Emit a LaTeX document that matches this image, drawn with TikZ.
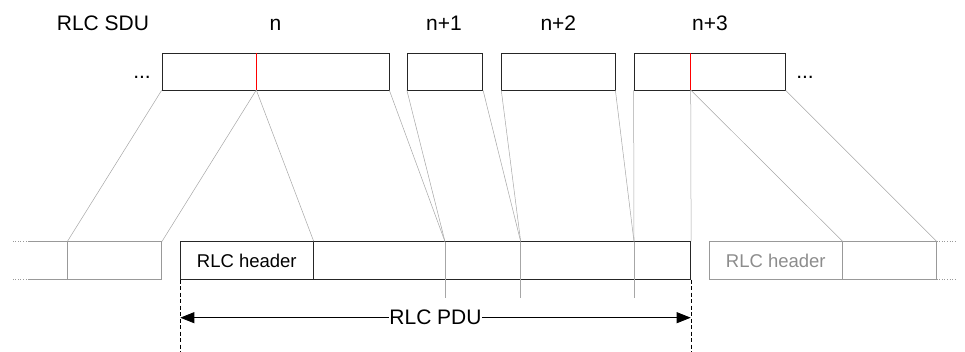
\documentclass[tikz,border=0pt]{standalone}
\usepackage{fontspec}
\setmainfont{Liberation Sans}
\usetikzlibrary{calc,arrows.meta}

\begin{document}
\begin{tikzpicture}[
        x=1pt, y=1pt,
        sdu/.style = {draw=black!85, line width=0.8pt, rectangle, minimum height=37pt, inner sep=0pt},
        pdu/.style = {draw=black!85, line width=0.8pt, rectangle, minimum height=37.6pt, inner sep=0pt},
        ghost/.style = {draw=black!40, line width=0.6pt, rectangle, minimum height=37.6pt, inner sep=0pt, text=black!45},
        ghostline/.style = {draw=black!40, line width=0.6pt},
        lbl/.style = {anchor=base, inner sep=0pt, font=\fontsize{21}{24}\selectfont},
        hdrfont/.style = {font=\fontsize{18.5}{22}\selectfont},
        map/.style = {draw=black!35, line width=0.5pt},
        cut/.style = {draw=red, line width=0.5pt},
        arrow/.style = {{Triangle[length=14pt,width=11pt]}-{Triangle[length=14pt,width=11pt]}, line width=0.8pt}
    ]
    \useasboundingbox (0,0) rectangle (965,352);

    % RLC SDUs at the top
    \node[sdu, minimum width=227pt] (sdun) at (275.5,280.5) {};
    \node[sdu, minimum width=75.4pt] (sdun1) at (445,280.5) {};
    \node[sdu, minimum width=113.3pt] (sdun2) at (558.35,280.5) {};
    \node[sdu, minimum width=151.3pt] (sdun3) at (709.65,280.5) {};

    % Labels over the SDUs
    \node[lbl] (tsdu) at (103,321) {RLC SDU};
    \node[lbl] (tn) at (275.5,321) {n};
    \node[lbl] (tn1) at (444,321) {n+1};
    \node[lbl] (tn2) at (558.35,321) {n+2};
    \node[lbl] (tn3) at (710,321) {n+3};
    \node[lbl] (ldots) at (142,273) {...};
    \node[lbl] (rdots) at (805,273) {...};

    % The RLC PDU
    \node[pdu, hdrfont, minimum width=133pt] (hdr) at (246.8,91.5) {RLC header};
    \node[pdu, minimum width=377.4pt] (pay) at (502,91.5) {};

    % Neighbouring PDUs in grey
    \node[ghost, minimum width=94pt] (lpay) at (114.7,91.5) {};
    \draw[ghostline] (lpay.north west) -- ++(-38.7,0) coordinate (ltop);
    \draw[ghostline] (lpay.south west) -- ++(-38.7,0) coordinate (lbot);
    \draw[ghostline, dotted] (ltop) -- ++(-18,0);
    \draw[ghostline, dotted] (lbot) -- ++(-18,0);
    \node[ghost, hdrfont, minimum width=133pt] (rhdr) at (775.8,91.5) {RLC header};
    \node[ghost, minimum width=94pt] (rpay) at (889.3,91.5) {};
    \draw[ghostline, dotted] (rpay.north east) -- ++(20,0);
    \draw[ghostline, dotted] (rpay.south east) -- ++(20,0);

    % Where the SDUs end inside the PDU
    \coordinate (d1) at (445,110.3);
    \coordinate (d2) at (520.7,110.3);
    \coordinate (d3) at (634,110.3);
    \draw[map] (d1) -- ++(0,-56);
    \draw[map] (d2) -- ++(0,-56);
    \draw[map] (d3) -- ++(0,-56);

    % Segmentation points
    \coordinate (cutn) at (256.3,262);
    \coordinate (cutn3) at (690.7,262);

    % Mapping lines
    \draw[map] (sdun.south west) -- (lpay.north west);
    \draw[map] (cutn) -- (lpay.north east);
    \draw[map] (cutn) -- (hdr.north east);
    \draw[map] (sdun.south east) -- (d1);
    \draw[map] (sdun1.south west) -- (d1);
    \draw[map] (sdun1.south east) -- (d2);
    \draw[map] (sdun2.south west) -- (d2);
    \draw[map] (sdun2.south east) -- (d3);
    \draw[map] (sdun3.south west) -- (d3);
    \draw[map] (cutn3) -- (pay.north east);
    \draw[map] (cutn3) -- (rhdr.north east);
    \draw[map] (sdun3.south east) -- (rpay.north east);

    % Red split marks
    \draw[cut] (cutn) -- (cutn |- sdun.north);
    \draw[cut] (cutn3) -- (cutn3 |- sdun3.north);

    % PDU size
    \coordinate (al) at (180.3,34.3);
    \coordinate (ar) at (690.7,34.3);
    \draw[dashed, dash pattern=on 4pt off 2.5pt, line width=0.6pt] (hdr.south west) -- ++(0,-72.7);
    \draw[dashed, dash pattern=on 4pt off 2.5pt, line width=0.6pt] (pay.south east) -- ++(0,-72.7);
    \draw[arrow] (al) -- node[fill=white, inner sep=0.5pt, font=\fontsize{21}{24}\selectfont] (tpdu) {RLC PDU} (ar);

\end{tikzpicture}
\end{document}
